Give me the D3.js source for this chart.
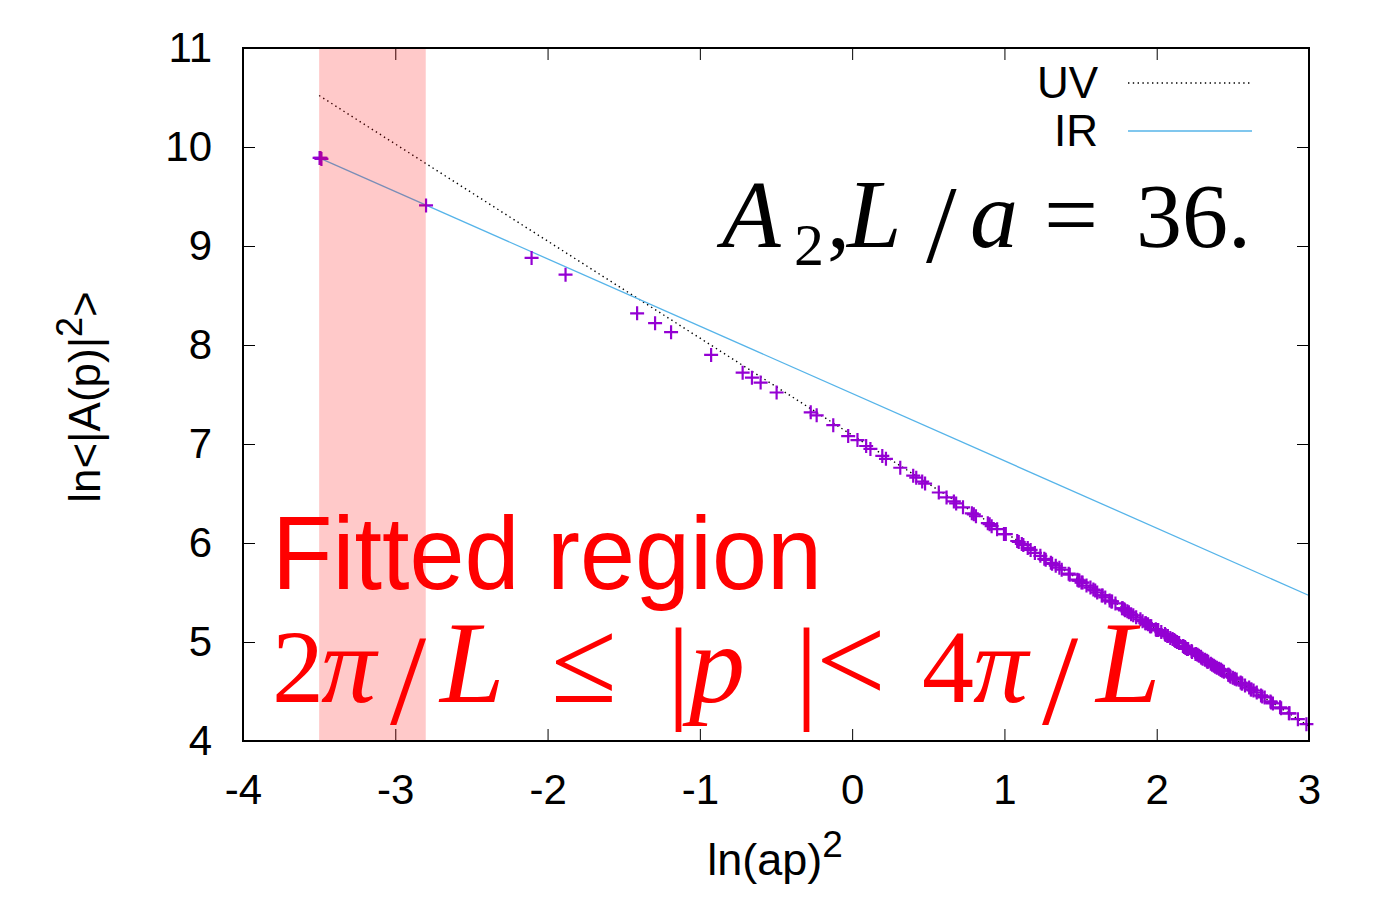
<!DOCTYPE html>
<html>
<head>
<meta charset="utf-8">
<script src="https://cdn.jsdelivr.net/npm/d3@7"></script>
<style>
  body { margin: 0; background: #fff; }
</style>
</head>
<body>
<script>
// tick values
var xTicks = [-4, -3, -2, -1, 0, 1, 2, 3];
var yTicks = [4, 5, 6, 7, 8, 9, 10, 11];

// fitted momentum window (in ln(ap)^2)
var fitRange = [-3.5, -2.8];

// fit lines, endpoints
var uvLine = [[-3.5, 10.52], [3.0, 4.15]];
var irLine = [[-3.5, 9.89], [3.0, 5.47]];

// data points [ln(ap)^2, ln<|A(p)|^2>]
var dataPoints = [
  [-3.497, 9.89], [-3.491, 9.89], [-3.485, 9.88],
  [-2.798, 9.41], [-2.105, 8.88], [-1.882, 8.71], [-1.412, 8.32], [-1.294, 8.22], [-1.189, 8.13],
  [-0.926, 7.90], [-0.719, 7.72], [-0.658, 7.67], [-0.601, 7.62], [-0.496, 7.52],
  [-0.272, 7.32], [-0.233, 7.29], [-0.124, 7.19], [-0.026, 7.08],
  [0.035, 7.04], [0.092, 6.98], [0.120, 6.95], [0.198, 6.88], [0.222, 6.85], [0.316, 6.76],
  [0.401, 6.68], [0.421, 6.66], [0.460, 6.62], [0.479, 6.60], [0.569, 6.51], [0.620, 6.46],
  [0.668, 6.42], [0.683, 6.40], [0.728, 6.36], [0.786, 6.30], [0.799, 6.29], [0.813, 6.27],
  [0.891, 6.20], [0.903, 6.19], [0.916, 6.17], [0.952, 6.14], [0.997, 6.09],
  [1.009, 6.09], [1.084, 6.02], [1.094, 6.01], [1.114, 5.99], [1.124, 5.98], [1.153, 5.95],
  [1.172, 5.93], [1.200, 5.90], [1.236, 5.87], [1.262, 5.84], [1.271, 5.83], [1.305, 5.80],
  [1.313, 5.79], [1.337, 5.77], [1.361, 5.75], [1.376, 5.73], [1.422, 5.69], [1.429, 5.68],
  [1.479, 5.63], [1.486, 5.62], [1.492, 5.62], [1.506, 5.60], [1.513, 5.60], [1.539, 5.57],
  [1.565, 5.55], [1.584, 5.53], [1.596, 5.52], [1.609, 5.50], [1.639, 5.47], [1.645, 5.47],
  [1.662, 5.45], [1.691, 5.42], [1.702, 5.41], [1.707, 5.41], [1.729, 5.39], [1.772, 5.34],
  [1.777, 5.34], [1.787, 5.33], [1.792, 5.32], [1.807, 5.31], [1.817, 5.30], [1.832, 5.28],
  [1.846, 5.27], [1.865, 5.25], [1.893, 5.23], [1.907, 5.21], [1.925, 5.19], [1.929, 5.19],
  [1.943, 5.18], [1.956, 5.16], [1.960, 5.16], [1.964, 5.16], [1.994, 5.13], [1.998, 5.12],
  [2.006, 5.12], [2.010, 5.12], [2.030, 5.10], [2.054, 5.08], [2.058, 5.07], [2.070, 5.06],
  [2.073, 5.06], [2.089, 5.04], [2.104, 5.03], [2.115, 5.02], [2.122, 5.01], [2.133, 5.00],
  [2.147, 4.99], [2.172, 4.96], [2.175, 4.96], [2.179, 4.95], [2.186, 4.95], [2.189, 4.94],
  [2.199, 4.93], [2.206, 4.93], [2.229, 4.91], [2.232, 4.90], [2.255, 4.88], [2.258, 4.88],
  [2.268, 4.87], [2.277, 4.86], [2.290, 4.85], [2.293, 4.84], [2.302, 4.83], [2.317, 4.82],
  [2.329, 4.81], [2.332, 4.80], [2.338, 4.80], [2.355, 4.78], [2.364, 4.77], [2.375, 4.76],
  [2.384, 4.75], [2.395, 4.74], [2.409, 4.73], [2.420, 4.72], [2.422, 4.72], [2.430, 4.71],
  [2.441, 4.70], [2.470, 4.67], [2.472, 4.67], [2.480, 4.66], [2.485, 4.65], [2.500, 4.64],
  [2.513, 4.63], [2.525, 4.62], [2.551, 4.59], [2.558, 4.58], [2.561, 4.58], [2.580, 4.56],
  [2.607, 4.54], [2.618, 4.52], [2.623, 4.52], [2.636, 4.51], [2.657, 4.49], [2.685, 4.46],
  [2.693, 4.45], [2.709, 4.44], [2.747, 4.40], [2.751, 4.39], [2.763, 4.38], [2.810, 4.34],
  [2.817, 4.33], [2.868, 4.28], [2.872, 4.28], [2.927, 4.22], [2.983, 4.17]
];

var legendLabels = ['UV', 'IR'];

var width = 1400, height = 901;
var plot = {left: 243, right: 1309, top: 48, bottom: 741};
var sans = '"Liberation Sans", Arial, sans-serif';
var serif = '"Liberation Serif", "Times New Roman", serif';

var svg = d3.select('body').append('svg')
    .attr('width', width).attr('height', height)
    .style('font-family', sans);

var x = d3.scaleLinear().domain([-4, 3]).range([plot.left, plot.right]);
var y = d3.scaleLinear().domain([4, 11]).range([plot.bottom, plot.top]);

function styleAxis(g, fontSize){
    g.select('.domain').remove();
    g.attr('font-family', null);
    g.selectAll('line').attr('stroke', '#000').attr('stroke-width', 1);
    g.selectAll('text').attr('fill', '#000').style('font-size', fontSize + 'px')
        .style('font-family', sans);
}

// axes, ticks pointing inwards on all four sides
svg.append('g').attr('transform', `translate(0,${plot.bottom})`)
    .call(d3.axisBottom(x).tickValues(xTicks).tickSize(-12).tickPadding(33).tickFormat(d => String(d)))
    .call(g => styleAxis(g, 42));
svg.append('g').attr('transform', `translate(0,${plot.top})`)
    .call(d3.axisTop(x).tickValues(xTicks).tickSize(-12).tickFormat(''))
    .call(g => styleAxis(g, 42));
svg.append('g').attr('transform', `translate(${plot.left},0)`)
    .call(d3.axisLeft(y).tickValues(yTicks).tickSize(-12).tickPadding(31).tickFormat(d => String(d)))
    .call(g => styleAxis(g, 42));
svg.append('g').attr('transform', `translate(${plot.right},0)`)
    .call(d3.axisRight(y).tickValues(yTicks).tickSize(-12).tickFormat(''))
    .call(g => styleAxis(g, 42));

var line = d3.line().x(d => x(d[0])).y(d => y(d[1]));

// UV fit (dotted black) and IR fit (light blue)
svg.append('path').datum(uvLine).attr('d', line)
    .attr('fill', 'none').attr('stroke', '#000').attr('stroke-width', 1.4)
    .attr('stroke-dasharray', '1.4 3.4');
svg.append('path').datum(irLine).attr('d', line)
    .attr('fill', 'none').attr('stroke', '#56b4e9').attr('stroke-width', 1.3);

// data crosses
var cs = 7;
svg.append('g').selectAll('path').data(dataPoints).join('path')
    .attr('transform', d => `translate(${x(d[0])},${y(d[1])})`)
    .attr('d', `M${-cs},0H${cs}M0,${-cs}V${cs}`)
    .attr('stroke', '#9400d3').attr('stroke-width', 2.2).attr('fill', 'none');

// fitted region band, on top of the marks
svg.append('rect')
    .attr('x', x(fitRange[0])).attr('width', x(fitRange[1]) - x(fitRange[0]))
    .attr('y', plot.top).attr('height', plot.bottom - plot.top)
    .attr('fill', '#ff0000').attr('fill-opacity', 0.21);

// legend
var legendY = [83, 131];
legendLabels.forEach(function(lab, i){
    svg.append('text').attr('x', 1098).attr('y', legendY[i]).attr('dy', '0.35em')
        .attr('text-anchor', 'end').style('font-size', '44px').text(lab);
    var l = svg.append('line').attr('x1', 1128).attr('x2', 1252)
        .attr('y1', legendY[i]).attr('y2', legendY[i]);
    if (i === 0) l.attr('stroke', '#000').attr('stroke-width', 1.4).attr('stroke-dasharray', '1.4 3.4');
    else l.attr('stroke', '#56b4e9').attr('stroke-width', 1.3);
});

// axis titles
var xt = svg.append('text').attr('x', 775).attr('y', 875).attr('text-anchor', 'middle').style('font-size', '45px');
xt.append('tspan').text('ln(ap)');
xt.append('tspan').attr('dy', -18).style('font-size', '37px').text('2');

var yt = svg.append('text').attr('transform', 'translate(100,397) rotate(-90)')
    .attr('text-anchor', 'middle').style('font-size', '44px');
yt.append('tspan').text('ln<|A(p)|');
yt.append('tspan').attr('dy', -18).style('font-size', '36px').text('2');
yt.append('tspan').attr('dy', 18).text('>');

// math-like annotations, glyph by glyph: [x, glyph, italic, baseline, size]
function mathText(pieces, color, size, base){
    pieces.forEach(function(p){
        svg.append('text')
            .attr('x', p[0]).attr('y', p[3] || base)
            .style('font-family', serif)
            .style('font-style', p[2] ? 'italic' : 'normal')
            .style('font-size', (p[4] || size) + 'px')
            .attr('fill', color)
            .text(p[1]);
    });
}

mathText([
    [722, 'A', true, 0, 96], [794, '2', false, 265, 60], [827, ',', false],
    [847, 'L', true, 0, 98], [926, '/', false, 262, 110], [970, 'a', true, 0, 96],
    [1044, '=', false, 0, 96], [1136, '36.', false]
], '#000', 92, 247);

svg.append('text').attr('x', 272).attr('y', 589)
    .style('font-size', '104px').attr('fill', '#ff0000')
    .attr('textLength', 550).attr('lengthAdjust', 'spacingAndGlyphs')
    .text('Fitted region');

mathText([
    [272, '2', false], [321, 'π', true, 0, 110], [390, '/', false, 724, 130],
    [440, 'L', true, 0, 116], [551, '≤', false, 0, 120],
    [667, '|', false, 708, 115], [689, 'p', true, 0, 112], [795, '|', false, 708, 115],
    [816, '<', false, 0, 124], [922, '4', false], [973, 'π', true, 0, 110],
    [1042, '/', false, 724, 130], [1096, 'L', true, 0, 116]
], '#ff0000', 104, 702);

// frame
svg.append('rect').attr('x', plot.left).attr('y', plot.top)
    .attr('width', plot.right - plot.left).attr('height', plot.bottom - plot.top)
    .attr('fill', 'none').attr('stroke', '#000').attr('stroke-width', 2);
</script>
</body>
</html>
